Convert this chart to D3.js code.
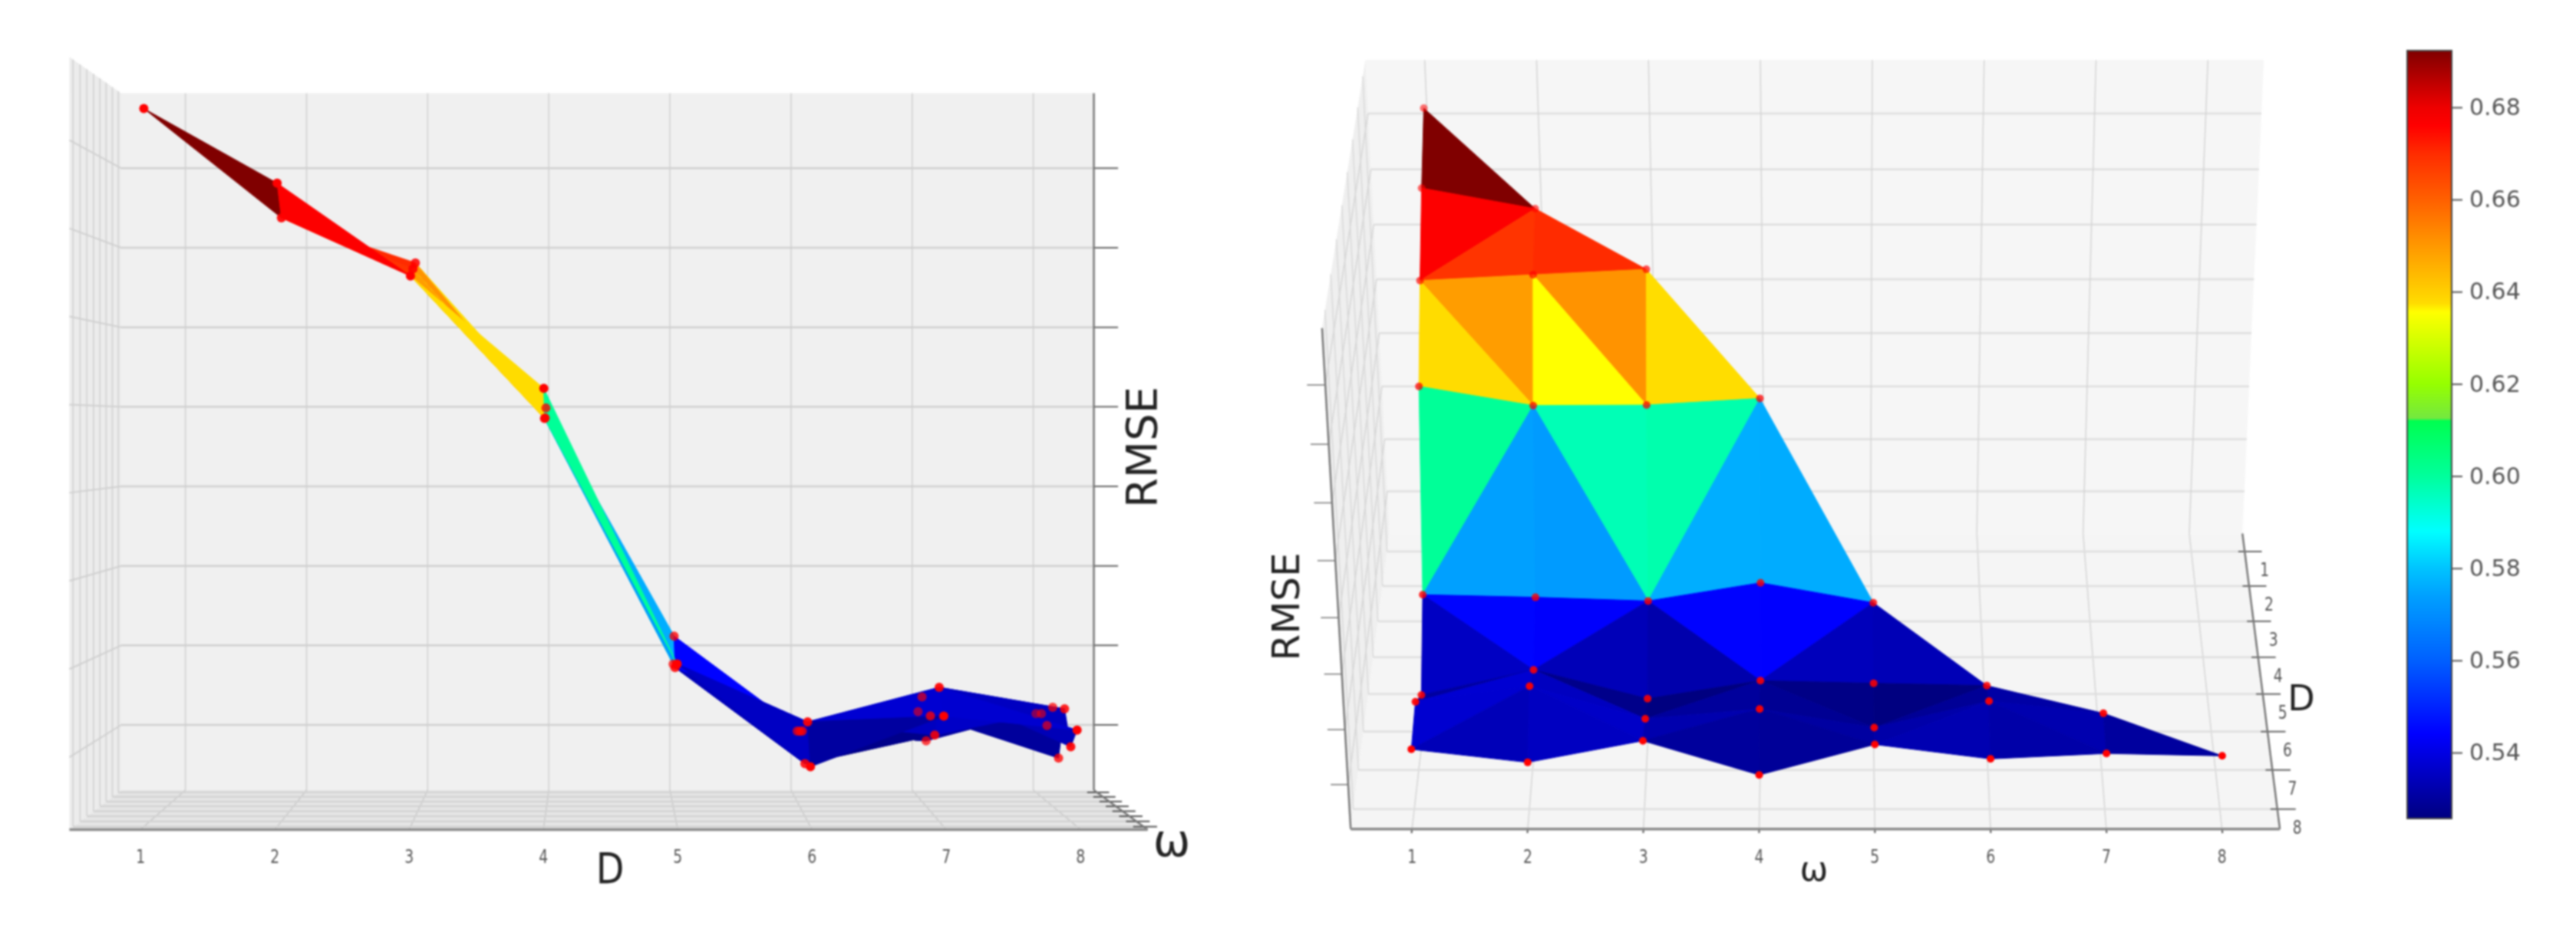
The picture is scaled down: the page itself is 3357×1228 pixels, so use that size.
<!DOCTYPE html>
<html lang="en">
<head>
<meta charset="UTF-8">
<title>RMSE surface over D and omega</title>
<script src="https://cdn.jsdelivr.net/npm/d3@7"></script>
<style>
    html, body { margin: 0; background: #fff; }
    svg { display: block; filter: blur(0.8px); }
    text { font-family: "DejaVu Sans", sans-serif; }
    .tick-label { font-size: 25px; fill: #555; text-anchor: middle; dominant-baseline: central; }
    .title { fill: #222; text-anchor: middle; dominant-baseline: central; }
    .cbar text { font-family: "DejaVu Sans", sans-serif; font-size: 30px; fill: #555; }
    .cbar line { stroke: #555; stroke-width: 2; }
</style>
</head>
<body>
<svg id="chart" width="3357" height="1228"></svg>
<script>
// RMSE, one array per D, index = omega - 1
var rmseD1 = [0.7096];
var rmseD2 = [0.6883, 0.6792];
var rmseD3 = [0.6618, 0.6644, 0.6668];
var rmseD4 = [0.6297, 0.6211, 0.6213, 0.6243];
var rmseD5 = [0.5510, 0.5498, 0.5481, 0.5565, 0.5473];
var rmseD6 = [0.5216, 0.5333, 0.5199, 0.5283, 0.5271, 0.5260];
var rmseD7 = [0.5361, 0.5433, 0.5283, 0.5328, 0.5242, 0.5364, 0.5308];
var rmseD8 = [0.5321, 0.5261, 0.5360, 0.5203, 0.5343, 0.5277, 0.5302, 0.5291];
var rmseRows = [rmseD1, rmseD2, rmseD3, rmseD4, rmseD5, rmseD6, rmseD7, rmseD8];

var omegaTicks = [1, 2, 3, 4, 5, 6, 7, 8];
var dTicks = [1, 2, 3, 4, 5, 6, 7, 8];
var rmseTicks = [0.525, 0.55, 0.575, 0.6, 0.625, 0.65, 0.675, 0.7];
var cbarTicks = [0.54, 0.56, 0.58, 0.60, 0.62, 0.64, 0.66, 0.68];

// axis limits of the 3d box
var axisLim = [0.47, 8.5];
var zLim = [0.5045, 0.7236];

// surface triangles as "omega,D" vertices, row by row
var tris = [
    "1,1 1,2 2,2",
    "1,2 1,3 2,2", "2,2 1,3 2,3", "2,2 2,3 3,3",
    "1,3 1,4 2,4", "1,3 2,3 2,4", "2,3 2,4 3,4", "2,3 3,3 3,4", "3,3 3,4 4,4",
    "1,4 1,5 2,4", "2,4 1,5 2,5", "2,4 2,5 3,5", "2,4 3,4 3,5", "3,4 3,5 4,4", "4,4 3,5 4,5", "4,4 4,5 5,5",
    "1,5 1,6 2,6", "1,5 2,5 2,6", "2,5 2,6 3,5", "3,5 2,6 3,6", "3,5 3,6 4,6", "3,5 4,5 4,6", "4,5 4,6 5,5", "5,5 4,6 5,6", "5,5 5,6 6,6",
    "1,6 2,6 1,7", "2,6 1,7 2,7", "2,6 2,7 3,7", "2,6 3,6 3,7", "3,6 4,6 3,7", "4,6 3,7 4,7", "4,6 4,7 5,7", "4,6 5,6 5,7", "5,6 6,6 5,7", "6,6 5,7 6,7", "6,6 6,7 7,7",
    "1,7 1,8 2,7", "2,7 1,8 2,8", "2,7 2,8 3,8", "2,7 3,7 3,8", "3,7 4,7 3,8", "4,7 3,8 4,8", "4,7 4,8 5,8", "4,7 5,7 5,8", "5,7 6,7 5,8", "6,7 5,8 6,8", "6,7 6,8 7,8", "6,7 7,7 7,8", "7,7 7,8 8,8"
];

// colorbar as it looks in the picture, has a small jump just above 0.612
var cmapValues = [0.5257, 0.5440, 0.56, 0.574, 0.58, 0.588, 0.60, 0.612, 0.6125, 0.62, 0.63, 0.6356, 0.6375, 0.65, 0.66, 0.67, 0.676, 0.68, 0.6923];
var cmapColors = ["#000080", "#0000ff", "#0060ff", "#00a0ff", "#00c4ff", "#00ffff", "#00ff9c", "#00ff50", "#74e840", "#96ff00", "#d8ff00", "#ffff00", "#ffdc00", "#ff9800", "#ff6000", "#ff2c00", "#ff0000", "#ee0000", "#800000"];
var color = d3.scaleLinear().domain(cmapValues).range(cmapColors).clamp(true);

var svg = d3.select("#chart");
var lineGen = d3.line();
var norm = d3.scaleLinear().domain(axisLim).range([0, 1]);
var zNorm = d3.scaleLinear().domain(zLim).range([0, 1]);

// left view: looking along omega, one point perspective, omega=1 is at the front
var leftX = d3.scaleLinear().domain(axisLim).range([158, 1425.5]);
var leftY = d3.scaleLinear().domain(zLim).range([1030, 121.5]);
function leftProj(w, d, r) {
    var k = 1 / (1 - 0.098 * (1 - norm(w)));
    return [780 + (leftX(d) - 780) * k, 557 + (leftY(r) - 557) * k];
}

// right view: looking along D from above, D=8 is at the front
var W0 = 1111.6, hD = 1110 / 1211.4 - 1 + 0.0017, hZ = -0.0507;
function rightProj(w, d, r) {
    var u = norm(w), v = norm(d), t = zNorm(r);
    var s = 1 + hD * v + hZ * t;
    var x = 1810.7 + W0 * u + (1760.2 * (1 + hD) - 1810.7) * v + (1779.3 * (1 + hZ) - 1810.7) * t;
    var y = 695.5 + (1080.8 * (1 + hD) - 695.5) * v + (78.3 * (1 + hZ) - 695.5) * t;
    return [x / s, y / s];
}

function poly(g, proj, corners, fill) {
    g.append("path")
        .attr("d", lineGen(corners.map(c => proj(c[0], c[1], c[2]))) + "Z")
        .attr("fill", fill);
}

function seg(g, proj, a, b, stroke, width) {
    var p = proj(a[0], a[1], a[2]), q = proj(b[0], b[1], b[2]);
    g.append("line")
        .attr("x1", p[0]).attr("y1", p[1])
        .attr("x2", q[0]).attr("y2", q[1])
        .attr("stroke", stroke).attr("stroke-width", width);
}

var wMin = axisLim[0], wMax = axisLim[1], zMin = zLim[0], zMax = zLim[1];

function drawSurface(g, proj, depthOf, alphaOf, radius) {
    var faces = tris.map(s => {
        var verts = s.split(" ").map(v => v.split(",").map(Number));
        var pts = verts.map(v => [v[0], v[1], rmseRows[v[1] - 1][v[0] - 1]]);
        return {
            pts: pts,
            mean: d3.mean(pts, p => p[2]),
            depth: d3.mean(pts, p => depthOf(p[0], p[1]))
        };
    });
    faces.sort((a, b) => d3.ascending(a.depth, b.depth));

    g.selectAll("path.face").data(faces).enter().append("path")
        .attr("class", "face")
        .attr("d", f => lineGen(f.pts.map(p => proj(p[0], p[1], p[2]))) + "Z")
        .attr("fill", f => color(f.mean))
        .attr("stroke", f => color(f.mean))
        .attr("stroke-width", 1);

    var points = [];
    rmseRows.forEach((row, i) => row.forEach((r, j) => points.push([j + 1, i + 1, r])));
    g.selectAll("circle").data(points).enter().append("circle")
        .attr("cx", p => proj(p[0], p[1], p[2])[0])
        .attr("cy", p => proj(p[0], p[1], p[2])[1])
        .attr("r", radius)
        .attr("fill", "#ff0000")
        .attr("opacity", p => alphaOf(p[0], p[1]));
}

// ---------- left panel ----------
var left = svg.append("g");
poly(left, leftProj, [[wMax, wMin, zMin], [wMax, wMax, zMin], [wMax, wMax, zMax], [wMax, wMin, zMax]], "#f0f0f0");
poly(left, leftProj, [[wMax, wMin, zMin], [wMin, wMin, zMin], [wMin, wMin, zMax], [wMax, wMin, zMax]], "#ececec");
poly(left, leftProj, [[wMax, wMin, zMin], [wMax, wMax, zMin], [wMin, wMax, zMin], [wMin, wMin, zMin]], "#e6e6e6");

rmseTicks.forEach(r => {
    seg(left, leftProj, [wMax, wMin, r], [wMax, wMax, r], "#d0d0d0", 2.5);
    seg(left, leftProj, [wMax, wMin, r], [wMin, wMin, r], "#d0d0d0", 2);
    seg(left, leftProj, [wMax, wMax, r], [wMax, wMax + 0.2, r], "#666", 2);
});
dTicks.forEach(d => {
    seg(left, leftProj, [wMax, d, zMin], [wMax, d, zMax], "#cfcfcf", 1.5);
    seg(left, leftProj, [wMax, d, zMin], [wMin, d, zMin], "#c8c8c8", 1.5);
});
omegaTicks.forEach(w => {
    seg(left, leftProj, [w, wMin, zMin], [w, wMax, zMin], "#d2d2d2", 2.5);
    seg(left, leftProj, [w, wMin, zMin], [w, wMin, zMax], "#cfcfcf", 1.5);
    seg(left, leftProj, [w, wMax - 0.08, zMin], [w, wMax + 0.1, zMin], "#555", 2);
});
seg(left, leftProj, [wMax, wMax, zMin], [wMax, wMax, zMax], "#777", 2.5);
seg(left, leftProj, [wMax, wMax, zMin], [wMin, wMax, zMin], "#777", 2.5);
seg(left, leftProj, [wMin, wMin, zMin], [wMin, wMax, zMin], "#8a8a8a", 3.5);

drawSurface(left, leftProj, (w, d) => -w, (w, d) => 1 - (w - 1) * 0.07, 6);

dTicks.forEach(d => {
    var p = leftProj(wMin, d, zMin);
    left.append("text").attr("class", "tick-label")
        .attr("transform", "translate(" + p[0] + "," + (p[1] + 35) + ") scale(0.75,1)")
        .text(d);
});
left.append("text").attr("class", "title").attr("font-size", 56)
    .attr("transform", "translate(1487,583) rotate(-90)").text("RMSE");
left.append("text").attr("class", "title").attr("font-size", 56)
    .attr("transform", "translate(795,1132) scale(0.85,1)").text("D");
left.append("text").attr("class", "title").attr("font-size", 58)
    .attr("x", 1527).attr("y", 1096).text("ω");

// ---------- right panel ----------
var right = svg.append("g");
poly(right, rightProj, [[wMin, wMin, zMin], [wMax, wMin, zMin], [wMax, wMin, zMax], [wMin, wMin, zMax]], "#f6f6f6");
poly(right, rightProj, [[wMin, wMin, zMin], [wMin, wMax, zMin], [wMin, wMax, zMax], [wMin, wMin, zMax]], "#efefef");
poly(right, rightProj, [[wMin, wMin, zMin], [wMax, wMin, zMin], [wMax, wMax, zMin], [wMin, wMax, zMin]], "#f5f5f5");

rmseTicks.forEach(r => {
    seg(right, rightProj, [wMin, wMin, r], [wMax, wMin, r], "#dedede", 2.5);
    seg(right, rightProj, [wMin, wMin, r], [wMin, wMax, r], "#d4d4d4", 1.5);
    seg(right, rightProj, [wMin, wMax, r], [wMin - 0.15, wMax, r], "#777", 1.5);
});
omegaTicks.forEach(w => {
    seg(right, rightProj, [w, wMin, zMin], [w, wMin, zMax], "#d4d4d4", 1.5);
    seg(right, rightProj, [w, wMin, zMin], [w, wMax, zMin], "#d4d4d4", 1.5);
    seg(right, rightProj, [w, wMax - 0.03, zMin], [w, wMax + 0.1, zMin], "#555", 2);
});
dTicks.forEach(d => {
    seg(right, rightProj, [wMin, d, zMin], [wMax, d, zMin], "#dedede", 2.5);
    seg(right, rightProj, [wMin, d, zMin], [wMin, d, zMax], "#d8d8d8", 1.5);
    seg(right, rightProj, [wMax - 0.06, d, zMin], [wMax + 0.16, d, zMin], "#666", 2);
});
seg(right, rightProj, [wMin, wMax, zMin], [wMin, wMax, zMax], "#777", 2.5);
seg(right, rightProj, [wMax, wMin, zMin], [wMax, wMax, zMin], "#777", 2.5);
seg(right, rightProj, [wMin, wMax, zMin], [wMax, wMax, zMin], "#8a8a8a", 3.5);

drawSurface(right, rightProj, (w, d) => d, (w, d) => 0.55 + (d - 1) * 0.065, 5);

omegaTicks.forEach(w => {
    var p = rightProj(w, wMax, zMin);
    right.append("text").attr("class", "tick-label")
        .attr("transform", "translate(" + p[0] + "," + (p[1] + 35) + ") scale(0.75,1)")
        .text(w);
});
dTicks.forEach(d => {
    var p = rightProj(wMax, d, zMin);
    right.append("text").attr("class", "tick-label")
        .attr("transform", "translate(" + (p[0] + 26) + "," + (p[1] + 23) + ") scale(0.75,1)")
        .text(d);
});
right.append("text").attr("class", "title").attr("font-size", 50)
    .attr("transform", "translate(1676,791) rotate(-90)").text("RMSE");
right.append("text").attr("class", "title").attr("font-size", 46)
    .attr("x", 2999).attr("y", 910).text("D");
right.append("text").attr("class", "title").attr("font-size", 44)
    .attr("x", 2364).attr("y", 1132).text("ω");

// ---------- colorbar ----------
var cbarScale = d3.scaleLinear().domain([cmapValues[0], cmapValues[cmapValues.length - 1]]).range([1067, 66]);
var grad = svg.append("defs").append("linearGradient")
    .attr("id", "cbarGrad").attr("x1", 0).attr("y1", 1).attr("x2", 0).attr("y2", 0);
cmapValues.forEach((v, i) => {
    grad.append("stop")
        .attr("offset", (v - cmapValues[0]) / (cmapValues[cmapValues.length - 1] - cmapValues[0]))
        .attr("stop-color", cmapColors[i]);
});
svg.append("rect")
    .attr("x", 3137).attr("y", 66).attr("width", 58).attr("height", 1001)
    .attr("fill", "url(#cbarGrad)").attr("stroke", "#444").attr("stroke-width", 2);
svg.append("g").attr("class", "cbar")
    .attr("transform", "translate(3195,0)")
    .call(d3.axisRight(cbarScale).tickValues(cbarTicks).tickFormat(d3.format(".2f")).tickSize(14).tickPadding(9))
    .call(a => a.select(".domain").remove());
</script>
</body>
</html>
